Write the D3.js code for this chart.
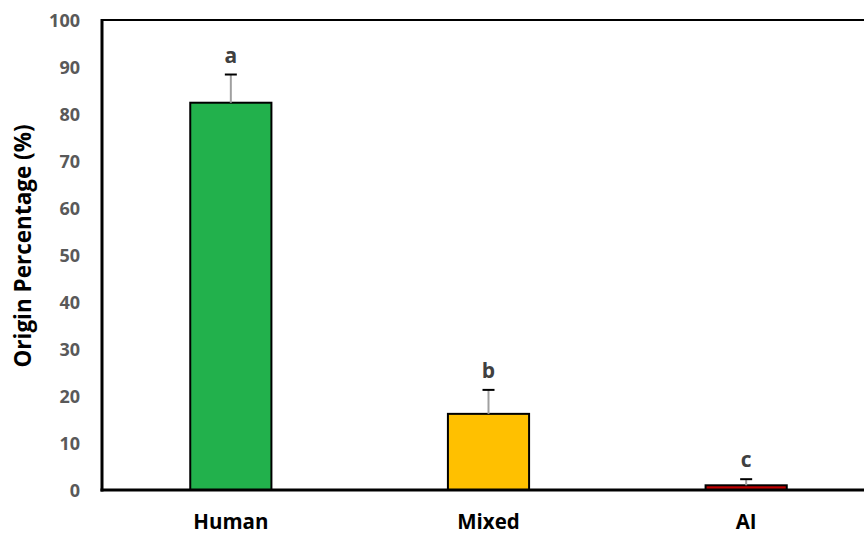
<!DOCTYPE html>
<html>
<head>
<meta charset="utf-8">
<script src="https://cdn.jsdelivr.net/npm/d3@7"></script>
<style>
  body { margin: 0; background: #fff; }
  svg { display: block; font-family: "Open Sans", sans-serif; }
</style>
</head>
<body>
<div id="chart"></div>
<script>
// chart data
var categories = ['Human', 'Mixed', 'AI'];
var values = [82.4, 16.2, 1.0];
var errors = [6.0, 5.1, 1.3];
var letters = ['a', 'b', 'c'];
var colors = ['#22b14c', '#ffc000', '#c00000'];
var yTicks = [0, 10, 20, 30, 40, 50, 60, 70, 80, 90, 100];

var width = 864, height = 536,
    margin = {top: 20, right: -11, bottom: 46, left: 102};

var svg = d3.select('#chart').append('svg')
  .attr('width', width).attr('height', height);

var x = d3.scaleBand().domain(categories)
  .range([margin.left, width - margin.right]).paddingInner(0.685).paddingOuter(0.3425);
var y = d3.scaleLinear().domain([0, 100]).range([height - margin.bottom, margin.top]);

// top frame line
svg.append('line')
  .attr('x1', margin.left).attr('x2', width)
  .attr('y1', y(100)).attr('y2', y(100))
  .attr('stroke', '#000').attr('stroke-width', 2);

// y axis labels
var yAxis = d3.axisLeft(y).tickValues(yTicks).tickSize(0).tickPadding(22);
var gy = svg.append('g').attr('transform', 'translate(' + margin.left + ',0)').call(yAxis);
gy.select('.domain').remove();
gy.selectAll('text').attr('fill', '#595959').attr('font-size', 18).attr('font-weight', 'bold')
  .style('font-family', '"Open Sans", sans-serif').attr('dy', '0.36em');

// bars
svg.append('g').selectAll('rect').data(categories).enter().append('rect')
  .attr('x', function (d) { return x(d); })
  .attr('y', function (d, i) { return y(values[i]); })
  .attr('width', x.bandwidth())
  .attr('height', function (d, i) { return y(0) - y(values[i]); })
  .attr('fill', function (d, i) { return colors[i]; })
  .attr('stroke', '#000').attr('stroke-width', 2);

// error bars (upper only)
var eb = svg.append('g').selectAll('g').data(categories).enter().append('g');
eb.append('line')
  .attr('x1', function (d) { return x(d) + x.bandwidth() / 2; })
  .attr('x2', function (d) { return x(d) + x.bandwidth() / 2; })
  .attr('y1', function (d, i) { return y(values[i]); })
  .attr('y2', function (d, i) { return y(values[i] + errors[i]); })
  .attr('stroke', '#a0a0a0').attr('stroke-width', 2);
eb.append('line')
  .attr('x1', function (d) { return x(d) + x.bandwidth() / 2 - 6; })
  .attr('x2', function (d) { return x(d) + x.bandwidth() / 2 + 6; })
  .attr('y1', function (d, i) { return y(values[i] + errors[i]); })
  .attr('y2', function (d, i) { return y(values[i] + errors[i]); })
  .attr('stroke', '#000').attr('stroke-width', 2);

// significance letters
svg.append('g').selectAll('text').data(categories).enter().append('text')
  .attr('x', function (d) { return x(d) + x.bandwidth() / 2; })
  .attr('y', function (d, i) { return y(values[i] + errors[i]) - 12; })
  .attr('text-anchor', 'middle')
  .attr('fill', '#404040').attr('font-size', 21).attr('font-weight', 'bold')
  .text(function (d, i) { return letters[i]; });

// axis lines
svg.append('line')
  .attr('x1', margin.left).attr('x2', margin.left)
  .attr('y1', y(100) - 1).attr('y2', y(0) + 1.5)
  .attr('stroke', '#000').attr('stroke-width', 3);
svg.append('line')
  .attr('x1', margin.left - 1.5).attr('x2', width)
  .attr('y1', y(0)).attr('y2', y(0))
  .attr('stroke', '#000').attr('stroke-width', 3);

// x labels
svg.append('g').selectAll('text').data(categories).enter().append('text')
  .attr('x', function (d) { return x(d) + x.bandwidth() / 2; })
  .attr('y', 529)
  .attr('text-anchor', 'middle')
  .attr('fill', '#000').attr('font-size', 20.5).attr('font-weight', 'bold')
  .text(function (d) { return d; });

// y title
svg.append('text')
  .attr('transform', 'translate(31,246) rotate(-90)')
  .attr('text-anchor', 'middle')
  .attr('fill', '#000').attr('font-size', 22.5).attr('font-weight', 'bold')
  .text('Origin Percentage (%)');
</script>
</body>
</html>
